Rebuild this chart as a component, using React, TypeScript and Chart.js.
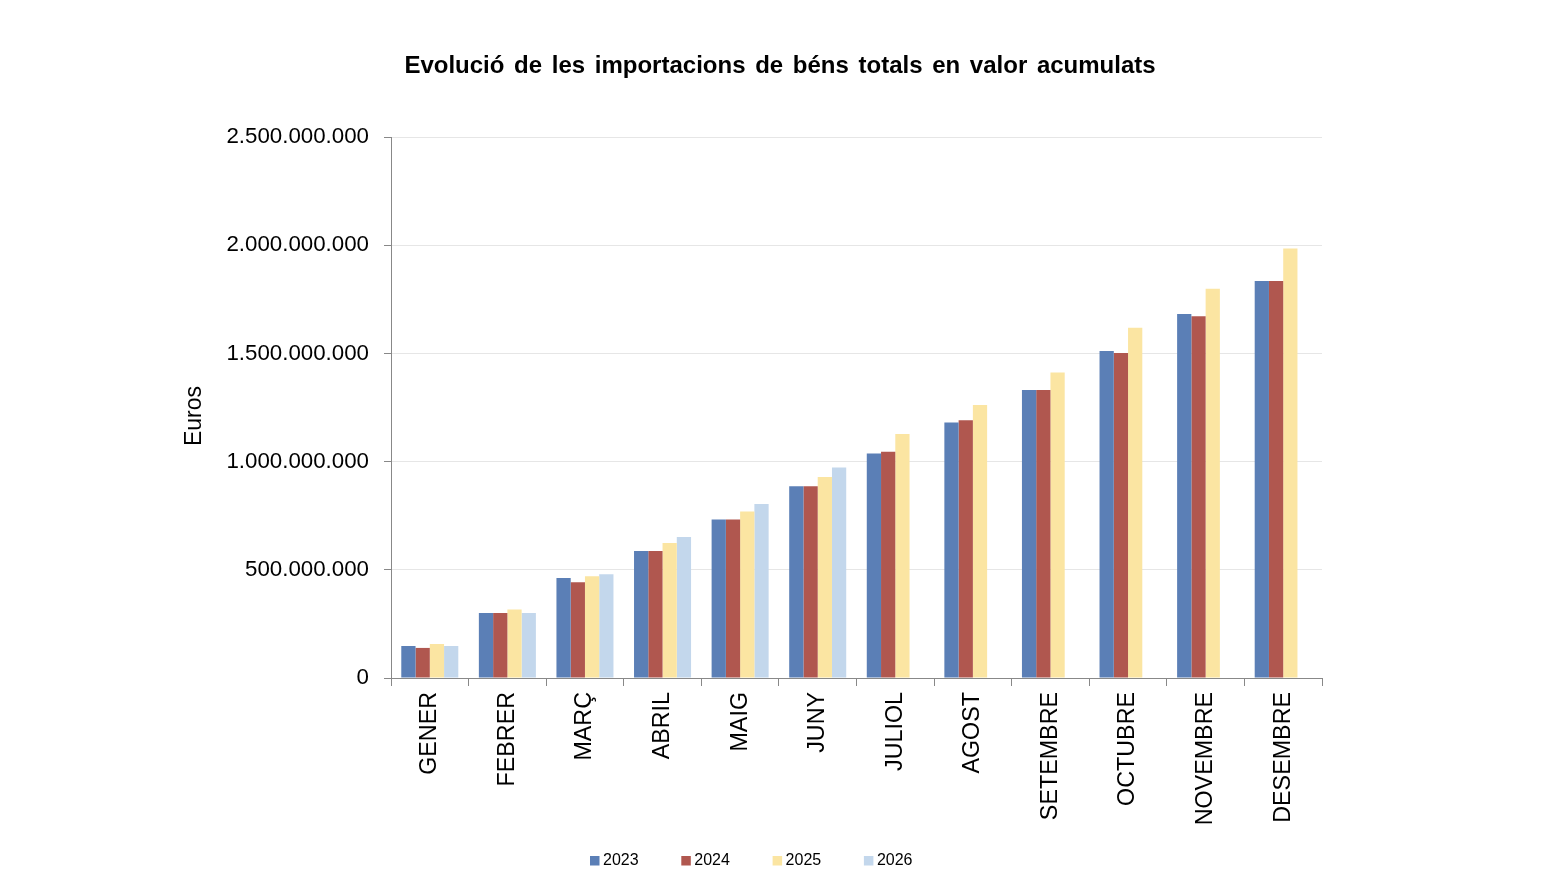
import React, { useEffect, useRef } from "react";
import { Chart, registerables } from "chart.js";

Chart.register(...registerables);

const categories = ["GENER", "FEBRER", "MARÇ", "ABRIL", "MAIG", "JUNY", "JULIOL", "AGOST", "SETEMBRE", "OCTUBRE", "NOVEMBRE", "DESEMBRE"];
const seriesLabels = ["2023", "2024", "2025", "2026"];
const values2023 = [148e6, 300e6, 462e6, 587e6, 733e6, 886e6, 1038e6, 1181e6, 1331e6, 1511e6, 1682e6, 1834e6];
const values2024 = [139e6, 300e6, 443e6, 587e6, 733e6, 886e6, 1046e6, 1191e6, 1331e6, 1502e6, 1672e6, 1834e6];
const values2025 = [157e6, 317e6, 470e6, 624e6, 769e6, 929e6, 1127e6, 1261e6, 1412e6, 1618e6, 1799e6, 1985e6];
const values2026 = [148e6, 300e6, 479e6, 651e6, 804e6, 973e6, null, null, null, null, null, null];
const colors = ["#5B7FB6", "#B0574F", "#FBE5A2", "#C3D7EC"];
const titleText = "Evolució de les importacions de béns totals en valor acumulats";
const yTitle = "Euros";

const FONT = "Liberation Sans, Arial, sans-serif";

function formatEuro(v: number): string {
  const s = Math.round(v).toString();
  return s.replace(/\B(?=(\d{3})+(?!\d))/g, ".");
}

const decorPlugin = {
  id: "decor",
  afterDraw(chart: any) {
    const ctx = chart.ctx;
    ctx.save();
    // title
    ctx.fillStyle = "#000";
    ctx.font = `bold 24px ${FONT}`;
    ctx.textAlign = "center";
    ctx.textBaseline = "middle";
    try { (ctx as any).wordSpacing = "3px"; } catch (e) {}
    ctx.fillText(titleText, 780, 66);
    try { (ctx as any).wordSpacing = "0px"; } catch (e) {}
    // y axis title
    ctx.save();
    ctx.font = `23px ${FONT}`;
    ctx.translate(195, 416);
    ctx.rotate(-Math.PI / 2);
    ctx.fillText(yTitle, 0, 0);
    ctx.restore();
    // legend
    ctx.font = `16px ${FONT}`;
    ctx.textAlign = "left";
    const startX = 590;
    const step = 91.3;
    seriesLabels.forEach((lab, i) => {
      const x = startX + i * step;
      ctx.fillStyle = colors[i];
      ctx.fillRect(x, 856, 9.5, 9.5);
      ctx.fillStyle = "#000";
      ctx.fillText(lab, x + 13, 861);
    });
    ctx.restore();
  },
};

export default function App() {
  const ref = useRef<HTMLCanvasElement | null>(null);
  useEffect(() => {
    if (!ref.current) return;
    const data = [values2023, values2024, values2025, values2026];
    const chart = new Chart(ref.current, {
      type: "bar",
      data: {
        labels: categories,
        datasets: seriesLabels.map((l, i) => ({
          label: l,
          data: data[i],
          backgroundColor: colors[i],
          borderWidth: 0,
          categoryPercentage: 0.735,
          barPercentage: 1.0,
        })),
      },
      options: {
        animation: false,
        responsive: true,
        maintainAspectRatio: false,
        layout: { padding: { left: 178, right: 236, top: 137, bottom: 0 } },
        plugins: {
          legend: { display: false },
          title: { display: false },
          tooltip: { enabled: false },
        },
        scales: {
          x: {
            grid: {
              display: true,
              drawOnChartArea: false,
              drawTicks: true,
              tickLength: 8,
              tickColor: "#888888",
              offset: true,
            },
            border: { display: true, color: "#888888", width: 1 },
            ticks: {
              color: "#000",
              font: { family: FONT, size: 23.3 },
              minRotation: 90,
              maxRotation: 90,
              padding: 6,
              autoSkip: false,
            },
            afterFit: (scale: any) => {
              scale.height = 208;
            },
          },
          y: {
            min: 0,
            max: 2500000000,
            grid: {
              color: "#E6E6E6",
              tickColor: "#888888",
              tickLength: 7,
              drawTicks: true,
            },
            border: { display: true, color: "#888888", width: 1 },
            ticks: {
              stepSize: 500000000,
              color: "#000",
              font: { family: FONT, size: 22.3 },
              padding: 15,
              callback: (v: any) => formatEuro(Number(v)),
            },
            afterFit: (scale: any) => {
              scale.width = 213;
            },
          },
        },
      },
      plugins: [decorPlugin],
    });
    return () => chart.destroy();
  }, []);
  return (
    <div style={{ position: "fixed", left: 0, top: 0, width: 1558, height: 886, background: "#fff" }}>
      <canvas ref={ref} />
    </div>
  );
}
